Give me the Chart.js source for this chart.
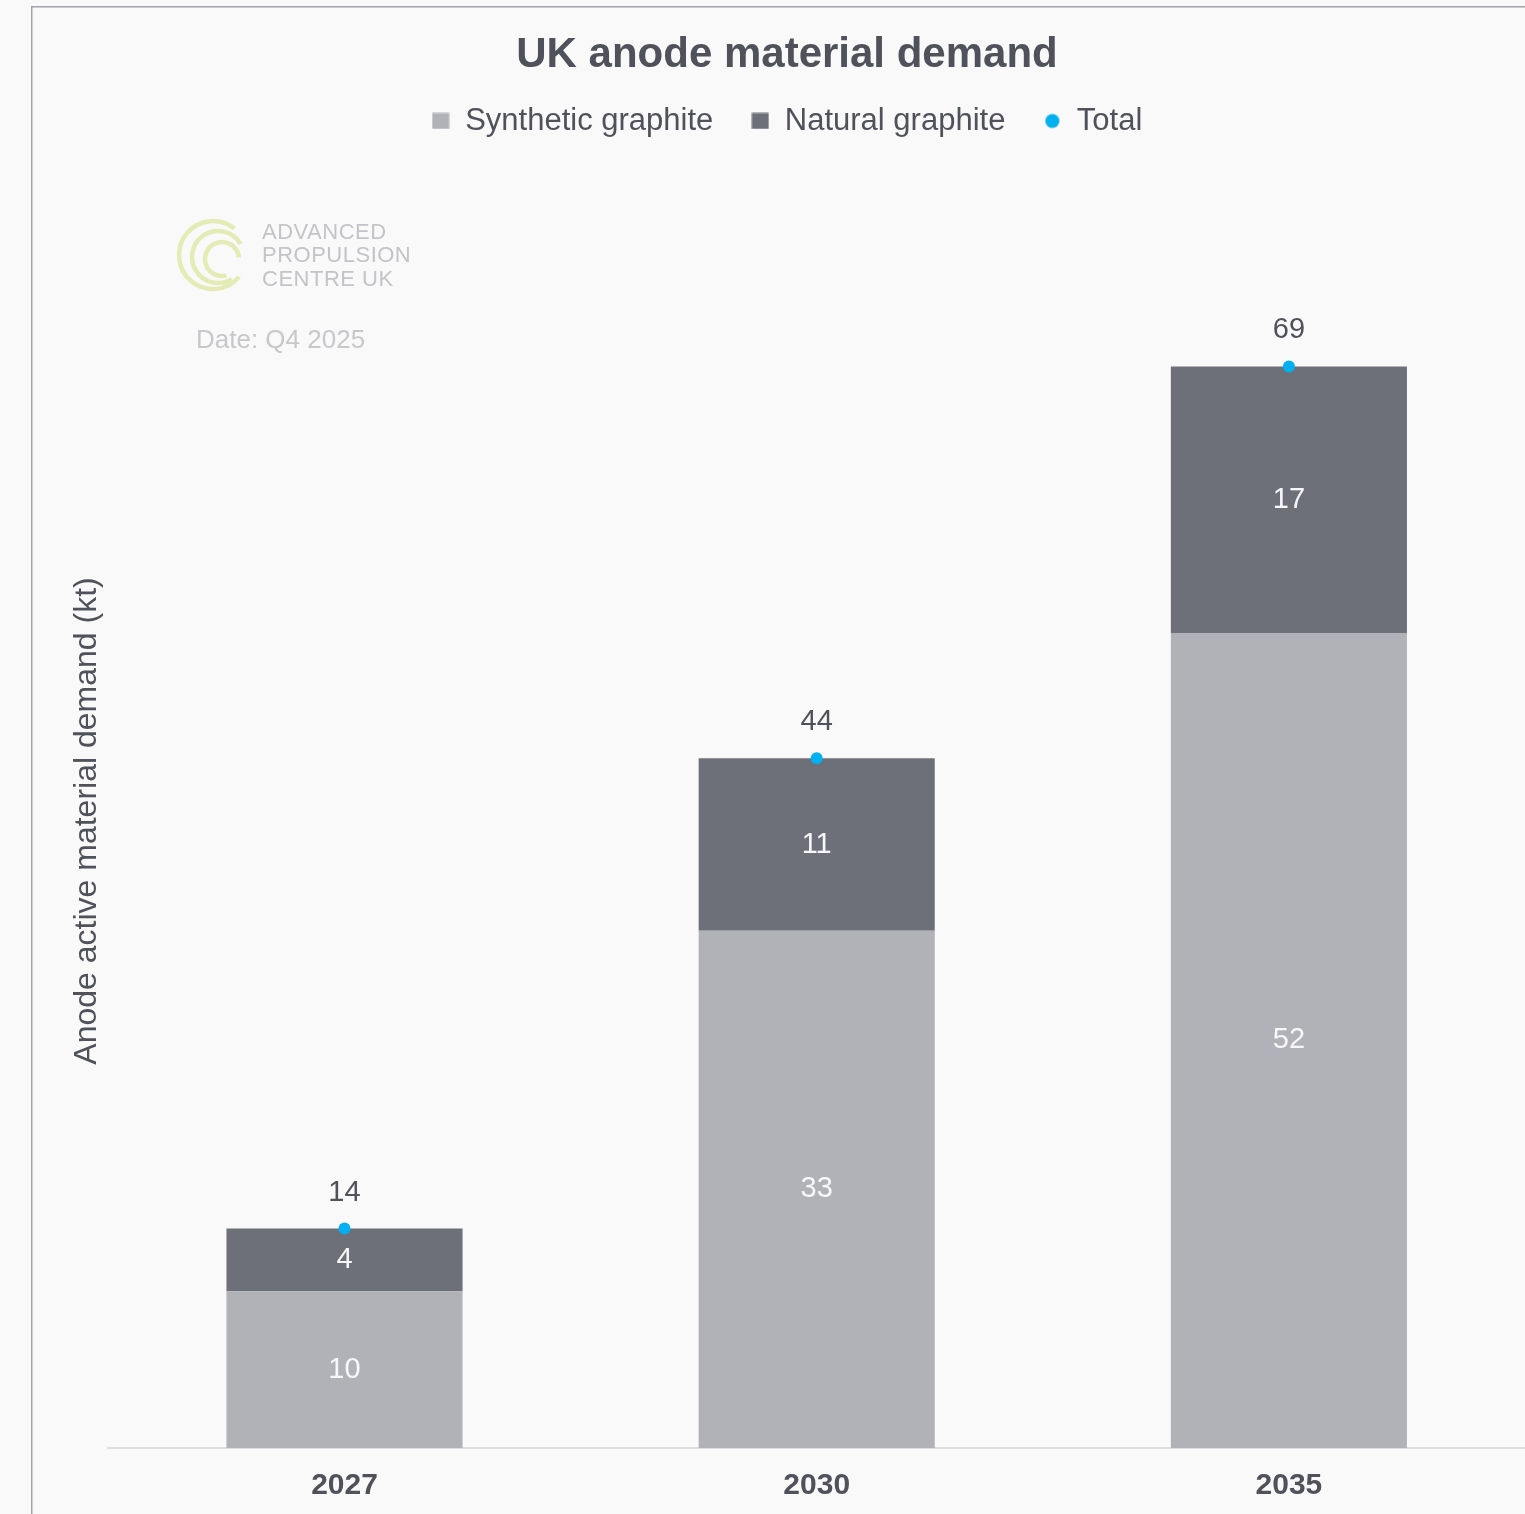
<!DOCTYPE html>
<html>
<head>
<meta charset="utf-8">
<title>UK anode material demand</title>
<script src="https://cdn.jsdelivr.net/npm/chart.js@4.4.1/dist/chart.umd.min.js"></script>
<style>
  html, body { margin: 0; padding: 0; background: #f9f9f9; overflow: hidden; }
  canvas { display: block; }
</style>
</head>
<body>
<canvas id="demandChart" width="1545" height="1514"></canvas>
<script>
// Anode demand by year (kt)
const years = ['2027', '2030', '2035'];
const synthetic = [10, 33, 52];
const natural = [4, 11, 17];
const total = [14, 44, 69];
const seriesNames = ['Synthetic graphite', 'Natural graphite', 'Total'];

const colours = {
    synthetic: '#b1b2b7',
    natural: '#6e7079',
    total: '#00b0f0',
    text: '#4f525a',
    faint: '#c4c4c8'
};

const FONT = '"Liberation Sans", Arial, sans-serif';
Chart.defaults.font.family = FONT;
Chart.defaults.color = colours.text;

// small legend markers: squares for the bars, a dot for the total
function makeMark(colour, round) {
    const c = document.createElement('canvas');
    c.width = 18;
    c.height = 17;
    const g = c.getContext('2d');
    g.fillStyle = colour;
    if (round) {
        g.beginPath();
        g.arc(9, 8.5, 7, 0, Math.PI * 2);
        g.fill();
    } else {
        g.fillRect(0.5, 0.5, 17, 16);
    }
    return c;
}
const legendMarks = [makeMark(colours.synthetic), makeMark(colours.natural), makeMark(colours.total, true)];

// background and the outer frame
const framePlugin = {
    id: 'frame',
    beforeDraw(chart) {
        const ctx = chart.ctx;
        ctx.save();
        ctx.fillStyle = '#f9f9f9';
        ctx.fillRect(0, 0, chart.width, chart.height);
        ctx.strokeStyle = '#a4a4a8';
        ctx.lineWidth = 1.5;
        ctx.strokeRect(31.75, 6.75, chart.width - 33, chart.height + 20);
        ctx.restore();
    }
};

// APC logo and date stamp behind the bars
const watermark = {
    id: 'watermark',
    beforeDatasetsDraw(chart) {
        const ctx = chart.ctx;
        ctx.save();
        ctx.strokeStyle = '#e5ebb4';
        ctx.lineWidth = 4.5;
        ctx.lineCap = 'butt';
        const rad = d => d * Math.PI / 180;
        ctx.beginPath();
        ctx.arc(213, 255, 34, rad(40), rad(309));
        ctx.stroke();
        ctx.beginPath();
        ctx.arc(218, 257, 26, rad(58), rad(330));
        ctx.stroke();
        ctx.beginPath();
        ctx.arc(222, 259, 17, rad(75), rad(355));
        ctx.stroke();

        ctx.fillStyle = colours.faint;
        ctx.textAlign = 'left';
        ctx.textBaseline = 'middle';
        ctx.font = '22px ' + FONT;
        ctx.letterSpacing = '0.5px';
        ctx.fillText('ADVANCED', 262, 233);
        ctx.fillText('PROPULSION', 262, 256);
        ctx.fillText('CENTRE UK', 262, 280);
        ctx.letterSpacing = '0px';

        ctx.fillStyle = '#c8c8cc';
        ctx.font = '26px ' + FONT;
        ctx.fillText('Date: Q4 2025', 196, 341);
        ctx.restore();
    }
};

// values inside each segment, totals above the dots
const valueLabels = {
    id: 'valueLabels',
    afterDatasetsDraw(chart) {
        const ctx = chart.ctx;
        ctx.save();
        ctx.font = '29px ' + FONT;
        ctx.textAlign = 'center';
        ctx.textBaseline = 'middle';
        chart.data.datasets.forEach((ds, i) => {
            const meta = chart.getDatasetMeta(i);
            meta.data.forEach((el, j) => {
                if (meta.type === 'bar') {
                    ctx.fillStyle = '#f7f7f9';
                    ctx.fillText(ds.data[j], el.x, (el.y + el.base) / 2);
                } else {
                    ctx.fillStyle = colours.text;
                    ctx.fillText(ds.data[j], el.x, el.y - 36);
                }
            });
        });
        ctx.restore();
    }
};

const ctx = document.getElementById('demandChart').getContext('2d');

new Chart(ctx, {
    type: 'bar',
    data: {
        labels: years,
        datasets: [
            {
                label: seriesNames[0],
                data: synthetic,
                backgroundColor: colours.synthetic,
                stack: 'graphite',
                barPercentage: 0.5,
                categoryPercentage: 1
            },
            {
                label: seriesNames[1],
                data: natural,
                backgroundColor: colours.natural,
                stack: 'graphite',
                barPercentage: 0.5,
                categoryPercentage: 1
            },
            {
                type: 'line',
                label: seriesNames[2],
                data: total,
                showLine: false,
                pointRadius: 6,
                pointBorderWidth: 0,
                pointBackgroundColor: colours.total,
                backgroundColor: colours.total,
                borderColor: colours.total,
                order: -1
            }
        ]
    },
    options: {
        responsive: false,
        animation: false,
        events: [],
        layout: { padding: { top: 42.5, left: 49, right: 20, bottom: -10 } },
        plugins: {
            title: {
                display: true,
                text: 'UK anode material demand',
                color: colours.text,
                font: { size: 42, weight: 'bold', lineHeight: 0.595 },
                padding: 0
            },
            legend: {
                display: true,
                labels: {
                    color: colours.text,
                    font: { size: 31 },
                    boxWidth: 18,
                    boxHeight: 17,
                    usePointStyle: true,
                    padding: 38,
                    sort: (a, b) => a.datasetIndex - b.datasetIndex,
                    generateLabels(chart) {
                        const items = Chart.defaults.plugins.legend.labels.generateLabels(chart);
                        items.forEach(it => { it.pointStyle = legendMarks[it.datasetIndex]; });
                        return items;
                    }
                }
            },
            // empty spacer between the legend and the bars
            subtitle: {
                display: true,
                text: '',
                weight: 500,
                font: { size: 1, lineHeight: 1 },
                padding: { top: 0, bottom: 46.5 }
            },
            tooltip: { enabled: false }
        },
        scales: {
            x: {
                stacked: true,
                grid: { display: false, drawTicks: false },
                border: { display: true, color: '#dedee2', width: 2 },
                ticks: {
                    color: colours.text,
                    font: { size: 30, weight: 'bold', lineHeight: 1.2 },
                    padding: 20
                }
            },
            y: {
                stacked: true,
                min: 0,
                max: 80,
                ticks: { display: false },
                grid: { display: false, drawTicks: false },
                border: { display: false },
                title: {
                    display: true,
                    text: 'Anode active material demand (kt)',
                    color: colours.text,
                    font: { size: 32, lineHeight: 1.2 },
                    padding: { top: 19, bottom: 2 }
                }
            }
        }
    },
    plugins: [framePlugin, watermark, valueLabels]
});
</script>
</body>
</html>
